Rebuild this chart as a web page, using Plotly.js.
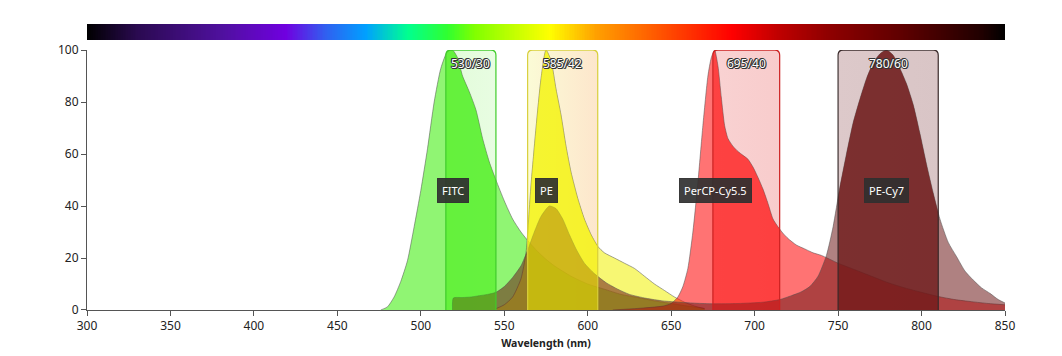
<!DOCTYPE html>
<html>
<head>
<meta charset="utf-8">
<script src="https://cdn.plot.ly/plotly-3.0.1.min.js"></script>
<style>html,body{margin:0;padding:0;background:#fff;}#chart{width:1062px;height:356px;}</style>
</head>
<body>
<div id="chart"></div>
<script>
// ---------- data ----------
const fluorNames = ["FITC", "PE", "PerCP-Cy5.5", "PE-Cy7"];
const fluorPeaks = [519, 575.5, 676.5, 779];

const fitcWl  = [476,480,484,488,492,496,500,504,508,512,516,519,522,525,529,533,537,541,545,550,555,560,565,570,575,580,590,600,610,620,630,640,650,660,670];
const fitcVal = [0,1.2,5,11,19,32,46,62,80,93,99.5,100,97,90,84,77,66,57,50,42,35,30,26,22.5,19.5,17,13,10,8,6,4.8,3.5,2.5,1.5,0.6];

const peWl  = [545,550,555,560,563,566,569,572,575,578,581,584,587,590,594,598,602,606,610,616,622,628,634,640,646,652,658,664,670];
const peVal = [0.5,2,5,12,22,48,70,89,100,96,85,75,63,53,43,35,29,24.5,22,20,18,16,13,10,7.5,5,3,1.5,0.5];

const percpWl  = [615,630,645,650,654,657,660,663,666,669,672,674,676,678,680,682,684,687,690,693,696,699,702,705,708,711,714,717,720,725,730,735,740,750,760,770,780,790,800,810,820,830,840,850];
const percpVal = [0,0.6,1.5,2.5,5,9,16,30,49,71,90,97,100,94,82,71,66,63,61,59.5,58,55,51,46.5,41,35,32,29.5,27.5,25,23.5,22,21,18,15.5,13,10.5,8.5,6.8,5.2,4,3.2,2.5,2];

const pecy7Wl  = [519,519.5,525,530,535,540,545,550,555,560,564,568,572,577,581,585,589,593,598,604,611,618,625,635,645,655,665,675,690,705,715,722,728,733,738,743,747,751,755,759,763,767,771,775,779,783,787,791,795,799,803,807,811,816,821,826,831,836,841,846,850];
const pecy7Val = [0,4.6,4.8,5,5.5,6,6.8,9,12.5,17,23,30,36,40,39,35,29,23.5,18,14,10.5,8,6,4.5,3.5,3,2.6,2.4,2.5,3,4,5.5,7,9,13,21,32,47,60,72,81,89,95,98.5,100,98,93,87,79,68,56,45,35,26,20.5,15,11.5,8.5,6.4,4,2.7];

const filterNames   = ["530/30", "585/42", "695/40", "780/60"];
const filterCenters = [530, 585, 695, 780];
const filterWidths  = [30, 42, 40, 60];

const xTicks = [300,350,400,450,500,550,600,650,700,750,800,850];
const yTicks = [0,20,40,60,80,100];

// visible-spectrum colour bar stops
const barStopWl    = [300,330,382,419,443,467,492,516,532,577,605,645,686,714,743,787,836,850];
const barStopColor = ["#000000","#2a0a50","#5010a0","#7000e0","#3060f0","#00a0ff","#00ff90","#30ff30","#80ff00","#ffff00","#ffa000","#ff5000","#ff0000","#c00000","#900000","#600000","#200000","#000000"];

// ---------- styles ----------
const baseColors  = ["rgba(53,237,0,0.55)","rgba(240,240,0,0.55)","rgba(255,0,0,0.55)","rgba(110,25,25,0.55)"];
const hiColors    = ["rgba(53,237,0,0.38)","rgba(245,245,0,0.5)","rgba(255,0,0,0.3)","rgba(110,25,25,0.72)"];
const boxFillA    = ["#e2fcd9","#fbfbd6","#f9d2d2","#ddc9ca"];
const boxFillB    = ["#e8fde2","#fde6cc","#f8cccc","#d9c5c6"];
const boxLine     = ["#3fcc2a","#d8cf3a","#cc2020","#3a2a2a"];

const FONT = "'Noto Sans', 'Open Sans', sans-serif";
const spectra = [[fitcWl,fitcVal],[peWl,peVal],[percpWl,percpVal],[pecy7Wl,pecy7Val]];

function clip(wl, val, lo, hi) {
  const xs = [], ys = [];
  const interp = (x) => {
    for (let i = 0; i < wl.length - 1; i++) {
      if (x >= wl[i] && x <= wl[i+1]) {
        const t = (x - wl[i]) / (wl[i+1] - wl[i]);
        return val[i] + t * (val[i+1] - val[i]);
      }
    }
    return 0;
  };
  xs.push(lo); ys.push(interp(lo));
  for (let i = 0; i < wl.length; i++) if (wl[i] > lo && wl[i] < hi) { xs.push(wl[i]); ys.push(val[i]); }
  xs.push(hi); ys.push(interp(hi));
  return [xs, ys];
}

const traces = [];
// filter box fills
const rx = 3, ry = 2;
filterCenters.forEach((c, i) => {
  const lo = c - filterWidths[i] / 2, hi = c + filterWidths[i] / 2;
  const xs = [lo], ys = [0];
  for (let k = 0; k <= 6; k++) { const a = Math.PI - k * Math.PI / 12; xs.push(lo + rx + rx * Math.cos(a)); ys.push(100 - ry + ry * Math.sin(a)); }
  for (let k = 6; k <= 12; k++) { const a = Math.PI - k * Math.PI / 12; xs.push(hi - rx + rx * Math.cos(a)); ys.push(100 - ry + ry * Math.sin(a)); }
  xs.push(hi); ys.push(0);
  traces.push({x: xs, y: ys, type: "scatter", mode: "lines", fill: "toself",
    fillcolor: boxFillA[i],
    fillgradient: {type: "horizontal", colorscale: [[0, boxFillA[i]], [1, boxFillB[i]]]},
    line: {width: 0}, hoverinfo: "skip", showlegend: false});
});
// full spectra
spectra.forEach((s, i) => {
  traces.push({x: s[0], y: s[1], type: "scatter", mode: "lines", fill: "tozeroy",
    fillcolor: baseColors[i], line: {color: "rgba(80,80,80,0.75)", width: 0.7, shape: "spline", smoothing: 0.6},
    name: fluorNames[i], hoverinfo: "x+y+name", showlegend: false});
});
// in-filter highlight
spectra.forEach((s, i) => {
  const lo = filterCenters[i] - filterWidths[i] / 2, hi = filterCenters[i] + filterWidths[i] / 2;
  const cl = clip(s[0], s[1], lo, hi);
  traces.push({x: cl[0], y: cl[1], type: "scatter", mode: "lines", fill: "tozeroy",
    fillcolor: hiColors[i], line: {width: 0, shape: "spline", smoothing: 0.6}, hoverinfo: "skip", showlegend: false});
});
// colour bar
const barX = [];
for (let w = barStopWl[0]; w <= barStopWl[barStopWl.length - 1]; w += 1) barX.push(w);
const wMin = barStopWl[0], wMax = barStopWl[barStopWl.length - 1];
traces.push({type: "heatmap", x: barX, y: [0.5], z: [barX], xaxis: "x", yaxis: "y2",
  colorscale: barStopWl.map((w, i) => [(w - wMin) / (wMax - wMin), barStopColor[i]]),
  zmin: wMin, zmax: wMax, showscale: false, hoverinfo: "skip"});

// box borders
const shapes = filterCenters.map((c, i) => {
  const lo = c - filterWidths[i] / 2, hi = c + filterWidths[i] / 2;
  return {type: "path", layer: "above", xref: "x", yref: "y",
    path: `M ${lo},0 L ${lo},${100-ry} Q ${lo},100 ${lo+rx},100 L ${hi-rx},100 Q ${hi},100 ${hi},${100-ry} L ${hi},0`,
    line: {color: boxLine[i], width: 1.2}, fillcolor: "rgba(0,0,0,0)"};
});

const annotations = [];
filterCenters.forEach((c, i) => {
  annotations.push({x: c, y: 99, xref: "x", yref: "y", text: filterNames[i], showarrow: false,
    yanchor: "top", font: {family: FONT, size: 12, color: "#ffffff",
    shadow: "1px 0 0 #333, -1px 0 0 #333, 0 1px 0 #333, 0 -1px 0 #333, 1px 1px 0 #333, -1px -1px 0 #333"}});
});
fluorPeaks.forEach((p, i) => {
  annotations.push({x: p, y: 46, xref: "x", yref: "y", text: fluorNames[i], showarrow: false,
    bgcolor: "rgba(48,48,48,0.92)", bordercolor: "rgba(48,48,48,0.92)", borderpad: 4,
    font: {family: FONT, size: 11, color: "#ffffff"}});
});

const layout = {
  width: 1062, height: 356,
  margin: {l: 87, r: 57, t: 24, b: 46},
  paper_bgcolor: "#ffffff", plot_bgcolor: "rgba(0,0,0,0)",
  font: {family: FONT, size: 12, color: "#333"},
  xaxis: {range: [300, 850], tickvals: xTicks, ticks: "outside", ticklen: 5, tickcolor: "#555",
    showline: true, linecolor: "#555", linewidth: 1, showgrid: false, zeroline: false,
    anchor: "y", tickfont: {family: FONT, size: 12, color: "#222"},
    title: {text: "<b>Wavelength (nm)</b>", font: {family: FONT, size: 10.5, color: "#222"}, standoff: 6}},
  yaxis: {domain: [0, 0.909], range: [0, 100], tickvals: yTicks, ticks: "outside", ticklen: 5, tickcolor: "#555",
    showline: true, linecolor: "#555", linewidth: 1, showgrid: false, zeroline: false,
    tickfont: {family: FONT, size: 12, color: "#222"}},
  yaxis2: {domain: [0.944, 1], range: [0, 1], visible: false, fixedrange: true},
  shapes: shapes,
  annotations: annotations,
  showlegend: false
};

Plotly.newPlot("chart", traces, layout, {displayModeBar: false, staticPlot: true});
</script>
</body>
</html>
